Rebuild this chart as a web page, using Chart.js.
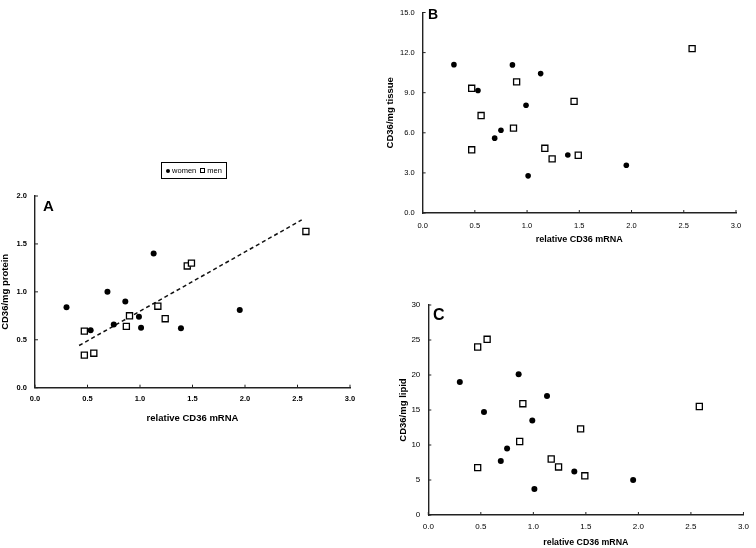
<!DOCTYPE html>
<html>
<head>
<meta charset="utf-8">
<script src="https://cdn.jsdelivr.net/npm/chart.js@4/dist/chart.umd.min.js"></script>
<style>
  body { margin: 0; background: #fff; width: 756px; height: 548px; overflow: hidden; position: relative; font-family: "Liberation Sans", Arial, sans-serif; }
  canvas { position: absolute; left: 0; top: 0; }
  .tag { position: absolute; font-weight: bold; line-height: 1; color: #000; }
  #legend { position: absolute; left: 161px; top: 162px; width: 64px; height: 15px; border: 1px solid #000; font-size: 7.5px; display: flex; align-items: center; justify-content: center; color: #000; white-space: nowrap; }
  .dot { display: inline-block; width: 4px; height: 4px; border-radius: 50%; background: #000; margin-right: 2px; }
  .box { display: inline-block; width: 3px; height: 3px; border: 1px solid #000; margin: 0 2px 0 4px; }
</style>
</head>
<body>
<canvas id="chartA" width="756" height="548"></canvas>
<canvas id="chartB" width="756" height="548"></canvas>
<canvas id="chartC" width="756" height="548"></canvas>
<div class="tag" style="left:43px;top:198px;font-size:15px">A</div>
<div class="tag" style="left:428px;top:7px;font-size:14px">B</div>
<div class="tag" style="left:433px;top:307px;font-size:16px">C</div>
<div id="legend"><span class="dot"></span>women<span class="box"></span>men</div>
<script>
// relative CD36 mRNA, same subjects in every panel
const womenX = [0.30, 0.53, 0.69, 0.75, 0.86, 0.99, 1.01, 1.13, 1.39, 1.95];
const menX = [0.47, 0.47, 0.56, 0.87, 0.90, 1.17, 1.24, 1.45, 1.49, 2.58];

// A: CD36/mg protein
const womenA = [0.84, 0.60, 1.00, 0.66, 0.90, 0.74, 0.625, 1.40, 0.62, 0.81];
const menA = [0.59, 0.34, 0.36, 0.64, 0.75, 0.85, 0.72, 1.27, 1.30, 1.63];
const trendX = [0.42, 2.54];
const trendA = [0.44, 1.75];

// B: CD36/mg tissue
const womenB = [11.1, 9.16, 5.6, 6.19, 11.08, 8.06, 2.78, 10.43, 4.34, 3.57];
const menB = [9.33, 4.73, 7.29, 6.35, 9.81, 4.84, 4.05, 8.35, 4.32, 12.3];

// C: CD36/mg lipid
const womenC = [19.0, 14.7, 7.7, 9.5, 20.1, 13.5, 3.7, 17.0, 6.2, 5.0];
const menC = [24.0, 6.76, 25.1, 10.5, 15.9, 8.0, 6.86, 12.3, 5.6, 15.5];

const pts = (xs, ys) => xs.map((x, i) => ({ x: x, y: ys[i] }));

// short tick marks pointing into the plot
const innerTicks = {
  id: 'innerTicks',
  afterDraw(chart) {
    const { ctx, chartArea, scales } = chart;
    ctx.save();
    ctx.strokeStyle = '#222';
    ctx.lineWidth = 1;
    scales.x.ticks.forEach(t => {
      const px = scales.x.getPixelForValue(t.value);
      ctx.beginPath(); ctx.moveTo(px, chartArea.bottom); ctx.lineTo(px, chartArea.bottom - 3); ctx.stroke();
    });
    scales.y.ticks.forEach(t => {
      const py = scales.y.getPixelForValue(t.value);
      ctx.beginPath(); ctx.moveTo(chartArea.left, py); ctx.lineTo(chartArea.left + 3, py); ctx.stroke();
    });
    ctx.restore();
  }
};

function makeChart(id, cfg) {
  const datasets = [
    { label: 'women', data: pts(womenX, cfg.women), pointStyle: 'circle', pointRadius: cfg.dotR,
      backgroundColor: '#000', borderColor: '#000', borderWidth: 0 },
    { label: 'men', data: pts(menX, cfg.men), pointStyle: 'rect', pointRadius: 4.3,
      backgroundColor: '#fff', borderColor: '#000', borderWidth: 1.3 }
  ];
  if (cfg.trend) {
    datasets.push({ type: 'line', label: 'trend', data: pts(trendX, cfg.trend), showLine: true,
      borderColor: '#111', borderWidth: 1.5, borderDash: [4, 3], pointRadius: 0, fill: false });
  }
  const tickFont = { family: '"Liberation Sans", Arial, sans-serif', size: cfg.tickSize, weight: cfg.tickWeight };
  const titleFont = (s) => ({ family: '"Liberation Sans", Arial, sans-serif', size: s, weight: 'bold' });
  return new Chart(document.getElementById(id), {
    type: 'scatter',
    data: { datasets: datasets },
    options: {
      responsive: false,
      animation: false,
      events: [],
      layout: { padding: cfg.pad },
      plugins: { legend: { display: false }, tooltip: { enabled: false } },
      scales: {
        x: {
          type: 'linear', min: 0, max: 3,
          afterFit: s => { s.height = cfg.xH; },
          grid: { drawOnChartArea: false, drawTicks: false },
          border: { display: true, color: '#222', width: 1.4 },
          ticks: { stepSize: 0.5, padding: cfg.xPad, color: '#000', font: tickFont, maxRotation: 0, autoSkip: false,
                   callback: v => v.toFixed(1) },
          title: { display: true, text: 'relative CD36 mRNA', color: '#000', font: titleFont(cfg.xTitle), padding: { top: 0, bottom: 0 } }
        },
        y: {
          type: 'linear', min: 0, max: cfg.yMax,
          afterFit: s => { s.width = cfg.yW; },
          grid: { drawOnChartArea: false, drawTicks: false },
          border: { display: true, color: '#222', width: 1.4 },
          ticks: { stepSize: cfg.yStep, padding: 8, color: '#000', font: tickFont,
                   callback: v => cfg.yDec ? v.toFixed(1) : String(v) },
          title: { display: true, text: cfg.yText, color: '#000', font: titleFont(9.5), padding: { top: 0, bottom: 0 } }
        }
      }
    },
    plugins: [innerTicks]
  });
}

makeChart('chartA', {
  women: womenA, men: menA, trend: trendA, dotR: 3,
  yMax: 2, yStep: 0.5, yDec: true, yText: 'CD36/mg protein',
  tickSize: 7.5, tickWeight: 'bold', xTitle: 9.5, xPad: 7,
  yW: 35, xH: 36.7, pad: { left: 0, top: 196, right: 406, bottom: 123.6 }
});
makeChart('chartB', {
  women: womenB, men: menB, dotR: 2.8,
  yMax: 15, yStep: 3, yDec: true, yText: 'CD36/mg tissue',
  tickSize: 7.5, tickWeight: 'normal', xTitle: 9, xPad: 8,
  yW: 38, xH: 32.4, pad: { left: 384.6, top: 4.7, right: 20, bottom: 302.6 }
});
makeChart('chartC', {
  women: womenC, men: menC, dotR: 3,
  yMax: 30, yStep: 5, yDec: false, yText: 'CD36/mg lipid',
  tickSize: 8, tickWeight: 'normal', xTitle: 8.8, xPad: 7,
  yW: 31, xH: 33, pad: { left: 397.3, top: 305, right: 7, bottom: 0 }
});
</script>
</body>
</html>
